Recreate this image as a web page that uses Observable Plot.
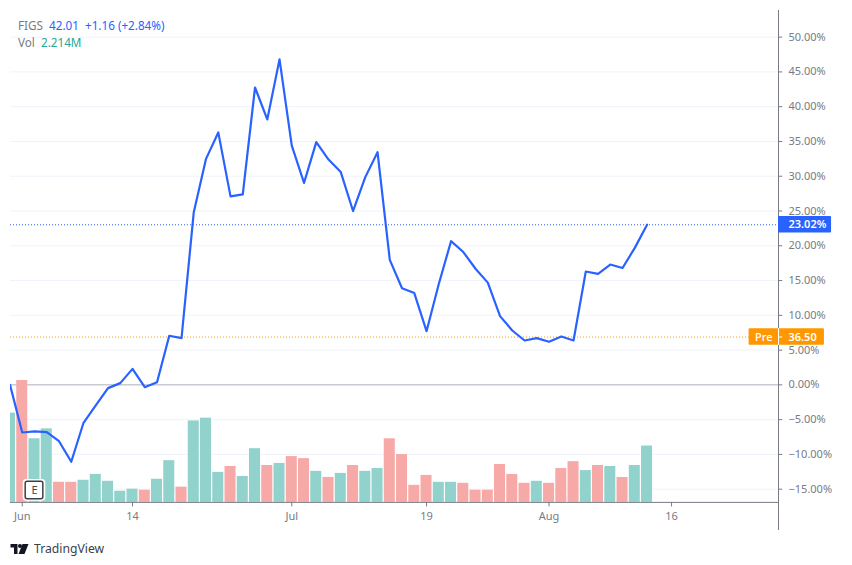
<!DOCTYPE html>
<html>
<head>
<meta charset="utf-8">
<script src="https://cdn.jsdelivr.net/npm/d3@7"></script>
<script src="https://cdn.jsdelivr.net/npm/@observablehq/plot@0.6"></script>
<style>
html,body{margin:0;padding:0;background:#fff;overflow:hidden}
#wrap{position:relative;width:852px;height:565px;font-family:"Noto Sans",sans-serif}
#wrap svg.plot{position:absolute;left:0;top:0}
.leg{position:absolute;left:18px;font-size:11.7px;line-height:14px;color:#787b86;white-space:pre}
#brand{position:absolute;left:10px;top:540px;display:flex;align-items:center;font-size:12.2px;color:#3c3f47}
#brand svg{margin-right:5px}
</style>
</head>
<body>
<div id="wrap">
<div class="leg" style="top:18px">FIGS  <span style="color:#2962ff">42.01  +1.16 (+2.84%)</span></div>
<div class="leg" style="top:35px">Vol  <span style="color:#26a69a">2.214M</span></div>
<div id="brand"><svg width="19" height="10" viewBox="0 0 36 20"><path fill="#131722" d="M0 0h14v20H7V7H0z"/><circle cx="19" cy="4" r="4" fill="#131722"/><path fill="#131722" d="M24 0h12l-8 20H16z"/></svg>TradingView</div>
</div>
<script>
const changePct = [0,-6.85,-6.7,-6.8,-8.1,-11.06,-5.45,-2.96,-0.47,0.25,2.3,-0.33,0.39,7.06,6.72,24.83,32.5,36.3,27.1,27.4,42.76,38.16,46.8,34.4,29.05,34.9,32.4,30.6,25.0,29.87,33.46,17.98,13.9,13.2,7.72,14.5,20.66,19.1,16.7,14.7,9.88,7.82,6.38,6.72,6.2,6.96,6.38,16.3,15.97,17.3,16.8,19.7,23.02];
const volumeM = [3.51,4.79,2.50,2.89,0.79,0.79,0.87,1.10,0.83,0.44,0.52,0.48,0.91,1.64,0.60,3.20,3.31,1.18,1.41,1.02,2.11,1.45,1.53,1.80,1.72,1.22,0.98,1.14,1.45,1.22,1.33,2.50,1.88,0.67,1.06,0.79,0.79,0.75,0.48,0.48,1.49,1.10,0.75,0.83,0.75,1.33,1.60,1.25,1.45,1.41,0.98,1.45,2.214];
const volumeDir = "TRTTRRTTTTTRTTRTTTRTTRTRRTRTRTTRRRRTTRRRRRRTRRRTRTRTT".split("");
const yTicks = [-15,-10,-5,0,5,10,15,20,25,30,35,40,45,50];
const xTickPos = [1,10,23,34,44,54];
const xTickLabels = ["Jun","14","Jul","19","Aug","16"];
const lastPct = 23.02, prePct = 6.88, floorPct = -16.9, pctPerM = 3.66;
const xMin = 0.04, xMax = 62.73, yMin = -20.94, yMax = 53.83;
const earningsAt = 2, earningsPct = -15.18;

const idx = changePct.map((_, i) => i);
const bars = idx.map(i => ({i, v: volumeM[i], d: volumeDir[i]}));
const font = "Noto Sans";

const plot = Plot.plot({
  width: 852, height: 565,
  marginLeft: 10, marginRight: 74, marginTop: 10, marginBottom: 35,
  style: {fontFamily: font, background: "transparent"},
  x: {type: "linear", domain: [xMin, xMax], axis: null},
  y: {type: "linear", domain: [yMin, yMax], axis: null},
  marks: [
    Plot.ruleY(yTicks.filter(t => t !== 0), {x1: xMin, x2: xMax, stroke: "#f0f3fa", strokeWidth: 1}),
    Plot.ruleY([0], {x1: xMin, x2: xMax, stroke: "#aeadbd", strokeWidth: 1}),
    Plot.rect(bars, {
      x1: d => d.i - 0.45, x2: d => d.i + 0.45,
      y1: floorPct, y2: d => floorPct + d.v * pctPerM,
      fill: d => d.d === "T" ? "#92d2cc" : "#f7a9a7", clip: true
    }),
    Plot.ruleY([lastPct], {x1: xMin, x2: xMax, stroke: "#2962ff", strokeWidth: 1, strokeDasharray: "1 2"}),
    Plot.ruleY([prePct], {x1: xMin, x2: xMax, stroke: "#ff9800", strokeWidth: 1, strokeDasharray: "1 2"}),
    Plot.line(idx, {x: i => i, y: i => changePct[i], stroke: "#2962ff", strokeWidth: 2.2, clip: true}),
    // earnings badge
    Plot.rect([earningsAt], {x1: d => d - 0.8, x2: d => d + 0.8, y1: earningsPct - 1.35, y2: earningsPct + 1.35, fill: "#fff", stroke: "#fff", strokeWidth: 3, rx: 2}),
    Plot.rect([earningsAt], {x1: d => d - 0.72, x2: d => d + 0.72, y1: earningsPct - 1.25, y2: earningsPct + 1.25, fill: "#fff", stroke: "#3b3e47", strokeWidth: 1.5, rx: 2}),
    Plot.text([earningsAt], {x: d => d, y: earningsPct, text: () => "E", fontSize: 11, fill: "#444"}),
    // axes
    Plot.ruleY([floorPct], {x1: xMin, x2: xMax, stroke: "#787b86", strokeWidth: 1}),
    Plot.ruleX([xMax], {stroke: "#787b86", strokeWidth: 1}),
    Plot.ruleX(xTickPos, {x: d => d, y1: floorPct, y2: floorPct - 0.65, stroke: "#787b86"}),
    Plot.text(xTickPos, {x: d => d, y: floorPct, dy: 14, text: (d, i) => xTickLabels[i], fontSize: 11, fill: "#787b86"}),
    Plot.ruleY(yTicks, {x1: xMax, x2: xMax + 0.35, stroke: "#787b86"}),
    Plot.text(yTicks, {x: xMax, y: d => d, dx: 10, textAnchor: "start", text: d => d3.format(".2f")(d).replace("-", "\u2212") + "%", fontSize: 11, fill: "#787b86"}),
    // price tags
    Plot.rect([lastPct], {x1: xMax, x2: xMax + 4.33, y1: d => d - 1.2, y2: d => d + 1.2, fill: "#2962ff", rx: 1}),
    Plot.text([lastPct], {x: xMax, y: d => d, dx: 10, textAnchor: "start", text: d => d.toFixed(2) + "%", fontSize: 11, fontWeight: 600, fill: "#fff"}),
    Plot.rect([prePct], {x1: xMax - 2.4, x2: xMax + 3.75, y1: d => d - 1.2, y2: d => d + 1.2, fill: "#ff9800", rx: 1}),
    Plot.ruleY([prePct], {x1: xMax, x2: xMax + 0.35, stroke: "#fff"}),
    Plot.ruleX([xMax], {y1: prePct - 1.2, y2: prePct + 1.2, stroke: "#fff"}),
    Plot.text([prePct], {x: xMax - 1.2, y: d => d, text: () => "Pre", fontSize: 11, fontWeight: 500, fill: "#fff"}),
    Plot.text([prePct], {x: xMax, y: d => d, dx: 10, textAnchor: "start", text: () => "36.50", fontSize: 11, fontWeight: 600, fill: "#fff"})
  ]
});
document.getElementById("wrap").prepend(plot);
</script>
</body>
</html>
